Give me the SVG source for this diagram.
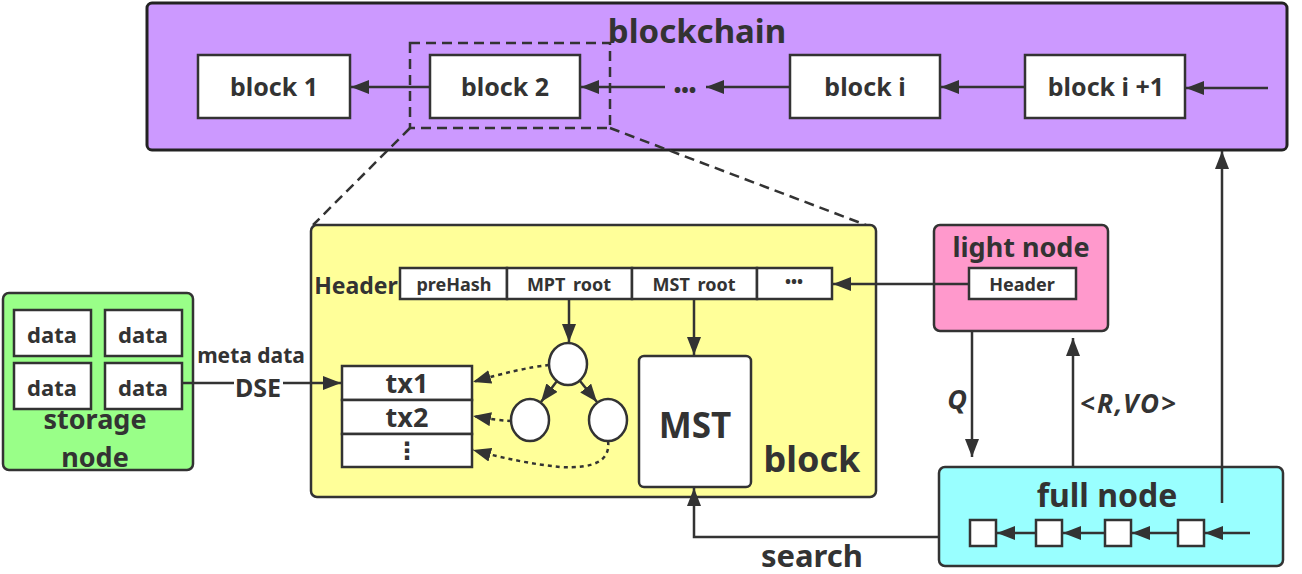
<svg xmlns="http://www.w3.org/2000/svg" width="1302" height="574" viewBox="0 0 1302 574">
<defs>
<marker id="ah" markerUnits="userSpaceOnUse" markerWidth="20" markerHeight="14" refX="18" refY="7" orient="auto"><path d="M0,0 L18,7 L0,14 z" fill="#333"/></marker>
<style>
text{font-family:"Noto Sans","Open Sans","DejaVu Sans",sans-serif;font-weight:bold;fill:#333;text-anchor:middle}
.box{fill:#fff;stroke:#333;stroke-width:2.5}
.ln{fill:none;stroke:#333;stroke-width:2.5}
.dash{fill:none;stroke:#333;stroke-width:2.5;stroke-dasharray:10 6}
.dot{fill:none;stroke:#333;stroke-width:2.5;stroke-dasharray:4 4}
.b{font-size:25px}
.h{font-size:18px}
</style>
</defs>
<g id="blockchain">
<rect x="147" y="3" width="1140" height="147" rx="5" fill="#cc99ff" stroke="#222" stroke-width="3"/>
<text x="697" y="43" style="font-size:33px">blockchain</text>
</g>
<g id="block1"><rect class="box" x="198" y="55" width="152" height="63"/><text class="b" x="274" y="96">block 1</text></g>
<g id="block2"><rect class="box" x="430" y="55" width="150" height="63"/><text class="b" x="505" y="96">block 2</text></g>
<g id="ellipsis"><text x="685" y="97" style="font-size:20px">•••</text></g>
<g id="blocki"><rect class="box" x="790" y="55" width="150" height="63"/><text class="b" x="865" y="96">block i</text></g>
<g id="blocki1"><rect class="box" x="1025" y="55" width="160" height="63"/><text class="b" x="1106" y="96">block i +1</text></g>
<g id="zoom">
<rect class="dash" x="410" y="43" width="200" height="85"/>
<line class="dash" x1="410" y1="128" x2="313" y2="225"/>
<line class="dash" x1="610" y1="128" x2="866" y2="225"/>
</g>
<g id="block">
<rect x="311" y="225" width="565" height="272" rx="6" fill="#ffff99" stroke="#333" stroke-width="2.5"/>
<text x="812" y="472" style="font-size:36px">block</text>
<text x="356" y="294" style="font-size:23px">Header</text>
<rect class="box" x="400" y="268" width="107" height="31"/><text class="h" x="454" y="291">preHash</text>
<rect class="box" x="507" y="268" width="125" height="31"/><text class="h" x="569" y="291" style="word-spacing:3px">MPT root</text>
<rect class="box" x="632" y="268" width="125" height="31"/><text class="h" x="694" y="291" style="word-spacing:3px">MST root</text>
<rect class="box" x="757" y="268" width="75" height="31"/><text x="794" y="287" style="font-size:16px">•••</text>
<rect class="box" x="342" y="366" width="130" height="34"/><text x="407" y="393" style="font-size:27px">tx1</text>
<rect class="box" x="342" y="400" width="130" height="34"/><text x="407" y="427" style="font-size:27px">tx2</text>
<rect class="box" x="342" y="434" width="130" height="33"/><text x="407" y="459" style="font-size:24px">⋮</text>
<ellipse class="box" cx="568" cy="364" rx="19" ry="21"/>
<ellipse class="box" cx="530" cy="420" rx="19" ry="21"/>
<ellipse class="box" cx="608" cy="420" rx="19" ry="21"/>
<rect class="box" x="639" y="356" width="112" height="131" rx="5"/>
<text x="695" y="438" style="font-size:35px">MST</text>
</g>
<g id="storage">
<rect x="3" y="293" width="190" height="177" rx="6" fill="#99ff88" stroke="#333" stroke-width="2.5"/>
<rect class="box" x="14" y="310" width="77" height="46"/><text x="52" y="343" style="font-size:22px">data</text>
<rect class="box" x="105" y="310" width="77" height="46"/><text x="143" y="343" style="font-size:22px">data</text>
<rect class="box" x="14" y="363" width="77" height="46"/><text x="52" y="396" style="font-size:22px">data</text>
<rect class="box" x="105" y="363" width="77" height="46"/><text x="143" y="396" style="font-size:22px">data</text>
<text x="95" y="429" style="font-size:27px">storage</text>
<text x="95" y="467" style="font-size:27px">node</text>
</g>
<g id="light">
<rect x="934" y="225" width="174" height="106" rx="6" fill="#ff99cc" stroke="#333" stroke-width="2.5"/>
<text x="1021" y="257" style="font-size:27px">light node</text>
<rect class="box" x="969" y="268" width="107" height="31"/><text x="1022" y="291" style="font-size:18px">Header</text>
</g>
<g id="full">
<rect x="939" y="467" width="344" height="99" rx="6" fill="#99ffff" stroke="#333" stroke-width="2.5"/>
<text x="1107" y="507" style="font-size:32px">full node</text>
<rect class="box" x="970" y="520" width="26" height="26"/>
<rect class="box" x="1036" y="520" width="26" height="26"/>
<rect class="box" x="1105" y="520" width="26" height="26"/>
<rect class="box" x="1178" y="520" width="26" height="26"/>
</g>
<g id="connectors">
<line class="ln" x1="430" y1="87" x2="351" y2="87" marker-end="url(#ah)"/>
<line class="ln" x1="665" y1="87" x2="581" y2="87" marker-end="url(#ah)"/>
<line class="ln" x1="790" y1="87" x2="706" y2="87" marker-end="url(#ah)"/>
<line class="ln" x1="1025" y1="87" x2="941" y2="87" marker-end="url(#ah)"/>
<line class="ln" x1="1268" y1="88" x2="1186" y2="88" marker-end="url(#ah)"/>
<line class="ln" x1="969" y1="284" x2="833" y2="284" marker-end="url(#ah)"/>
<line class="ln" x1="569" y1="299" x2="569" y2="342" marker-end="url(#ah)"/>
<line class="ln" x1="694" y1="299" x2="694" y2="355" marker-end="url(#ah)"/>
<line class="ln" x1="557" y1="381" x2="541" y2="402" marker-end="url(#ah)"/>
<line class="ln" x1="580" y1="381" x2="597" y2="402" marker-end="url(#ah)"/>
<path class="dot" d="M549,365 Q520,368 473,382" marker-end="url(#ah)"/>
<path class="dot" d="M511,421 Q495,420 473,416" marker-end="url(#ah)"/>
<path class="dot" d="M608,441 Q612,470 560,467 Q520,463 473,450" marker-end="url(#ah)"/>
<line class="ln" x1="182" y1="383" x2="234" y2="383"/>
<line class="ln" x1="283" y1="383" x2="341" y2="383" marker-end="url(#ah)"/>
<text x="251" y="363" style="font-size:21px">meta data</text>
<text x="258" y="397" style="font-size:25px">DSE</text>
<line class="ln" x1="972" y1="331" x2="972" y2="457" marker-end="url(#ah)"/>
<text x="957" y="409" style="font-size:27px;font-style:italic">Q</text>
<line class="ln" x1="1073" y1="467" x2="1073" y2="338" marker-end="url(#ah)"/>
<text x="1129" y="413" style="font-size:26px;font-style:italic;letter-spacing:2px">&lt;R,VO&gt;</text>
<line class="ln" x1="1222" y1="503" x2="1222" y2="151" marker-end="url(#ah)"/>
<polyline class="ln" points="939,537 694,537 694,488" marker-end="url(#ah)"/>
<text x="812" y="567" style="font-size:31px">search</text>
<line class="ln" x1="1036" y1="533" x2="997" y2="533" marker-end="url(#ah)"/>
<line class="ln" x1="1105" y1="533" x2="1063" y2="533" marker-end="url(#ah)"/>
<line class="ln" x1="1178" y1="533" x2="1132" y2="533" marker-end="url(#ah)"/>
<line class="ln" x1="1250" y1="533" x2="1205" y2="533" marker-end="url(#ah)"/>
</g>
</svg>
